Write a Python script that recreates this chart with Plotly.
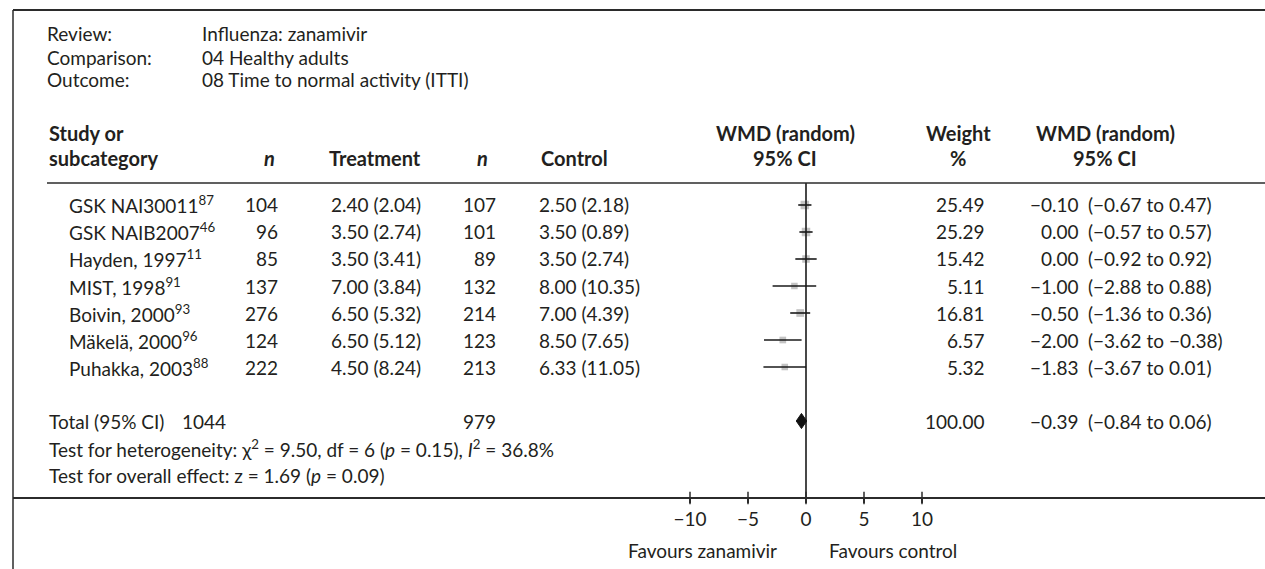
import plotly.graph_objects as go

# ---------------- data ----------------
studies = ["GSK NAI30011", "GSK NAIB2007", "Hayden, 1997", "MIST, 1998",
           "Boivin, 2000", "Mäkelä, 2000", "Puhakka, 2003"]
refs = ["87", "46", "11", "91", "93", "96", "88"]
n_treat = [104, 96, 85, 137, 276, 124, 222]
treat = ["2.40 (2.04)", "3.50 (2.74)", "3.50 (3.41)", "7.00 (3.84)",
         "6.50 (5.32)", "6.50 (5.12)", "4.50 (8.24)"]
n_ctrl = [107, 101, 89, 132, 214, 123, 213]
ctrl = ["2.50 (2.18)", "3.50 (0.89)", "3.50 (2.74)", "8.00 (10.35)",
        "7.00 (4.39)", "8.50 (7.65)", "6.33 (11.05)"]
wmd = [-0.10, 0.00, 0.00, -1.00, -0.50, -2.00, -1.83]
ci_lo = [-0.67, -0.57, -0.92, -2.88, -1.36, -3.62, -3.67]
ci_hi = [0.47, 0.57, 0.92, 0.88, 0.36, -0.38, 0.01]
weight = [25.49, 25.29, 15.42, 5.11, 16.81, 6.57, 5.32]

total_n_treat = 1044
total_n_ctrl = 979
total_wmd = -0.39
total_lo = -0.84
total_hi = 0.06
total_weight = 100.00

tick_vals = [-10, -5, 0, 5, 10]

# ---------------- layout constants ----------------
W, H = 1265, 569
FONT = "Lato, 'Open Sans', sans-serif"
FS = 19
FS_HEAD = 20
TXT = "#231f20"
LINE = "#2b2b2b"
PX_PER_UNIT = 11.6
ZERO_PX = 806
LEFT_PX = 13
ROW0_PX = 205
ROW_PITCH = 27
AXIS_PX = 498


def px_to_row(py):
    return (py - ROW0_PX) / ROW_PITCH


def row_to_paper(row):
    return 1 - (ROW0_PX + ROW_PITCH * row) / H


def fmt(v):
    return f"{v:.2f}".replace("-", "\u2212")


fig = go.Figure()

rows = list(range(len(studies)))
total_row = len(studies) + 1
het_row = total_row + 1
eff_row = total_row + 2

# squares
fig.add_trace(go.Scatter(
    x=wmd, y=rows, mode="markers",
    marker=dict(symbol="square", color="#ababab",
                size=[6 + 0.1 * w for w in weight], line=dict(width=0)),
    hoverinfo="skip", showlegend=False))

# CI lines
xs, ys = [], []
for lo, hi, r in zip(ci_lo, ci_hi, rows):
    xs += [lo, hi, None]
    ys += [r, r, None]
fig.add_trace(go.Scatter(x=xs, y=ys, mode="lines",
                         line=dict(color="#1a1a1a", width=1.6),
                         hoverinfo="skip", showlegend=False))

# zero line
fig.add_trace(go.Scatter(x=[0, 0], y=[px_to_row(183), px_to_row(AXIS_PX)],
                         mode="lines", line=dict(color="#1a1a1a", width=1.6),
                         hoverinfo="skip", showlegend=False))

# tick marks crossing the axis line
fig.add_trace(go.Scatter(x=tick_vals, y=[px_to_row(AXIS_PX)] * len(tick_vals),
                         mode="markers",
                         marker=dict(symbol="line-ns", size=9,
                                     line=dict(color=LINE, width=1.5)),
                         hoverinfo="skip", showlegend=False, cliponaxis=False))

# diamond
h = 0.28
fig.add_trace(go.Scatter(
    x=[total_lo, total_wmd, total_hi, total_wmd, total_lo],
    y=[total_row, total_row - h, total_row, total_row + h, total_row],
    mode="lines", fill="toself", fillcolor="#111111",
    line=dict(color="#111111", width=1), hoverinfo="skip", showlegend=False))

ann = []


def add_text(px, row, text, anchor="left", bold=False):
    t = f"<b>{text}</b>" if bold else text
    ann.append(dict(x=px / W, xref="paper", y=row_to_paper(row), yref="paper",
                    text=t, showarrow=False, xanchor=anchor, yanchor="middle",
                    font=dict(family=FONT, size=FS_HEAD if bold else FS,
                              color=TXT)))


# header info
info_labels = ["Review:", "Comparison:", "Outcome:"]
info_values = ["Influenza: zanamivir", "04 Healthy adults",
               "08 Time to normal activity (ITTI)"]
for lab, val, py in zip(info_labels, info_values, [33, 57, 80]):
    add_text(45, px_to_row(py), lab)
    add_text(200, px_to_row(py), val)

# column headers
r1, r2 = px_to_row(133), px_to_row(158)
add_text(47, r1, "Study or", bold=True)
add_text(47, r2, "subcategory", bold=True)
add_text(269, r2, "<i>n</i>", anchor="center", bold=True)
add_text(327, r2, "Treatment", bold=True)
add_text(482, r2, "<i>n</i>", anchor="center", bold=True)
add_text(539, r2, "Control", bold=True)
add_text(785, r1, "WMD (random)", anchor="center", bold=True)
add_text(785, r2, "95% CI", anchor="center", bold=True)
add_text(958, r1, "Weight", anchor="center", bold=True)
add_text(958, r2, "%", anchor="center", bold=True)
add_text(1105, r1, "WMD (random)", anchor="center", bold=True)
add_text(1105, r2, "95% CI", anchor="center", bold=True)

# study rows
for i, r in enumerate(rows):
    add_text(67, r, f"{studies[i]}<sup>{refs[i]}</sup>")
    add_text(280, r, str(n_treat[i]), anchor="right")
    add_text(329, r, treat[i])
    add_text(498, r, str(n_ctrl[i]), anchor="right")
    add_text(537, r, ctrl[i])
    add_text(987, r, f"{weight[i]:.2f}", anchor="right")
    add_text(1081, r, fmt(wmd[i]), anchor="right")
    add_text(1086, r, f"({fmt(ci_lo[i])} to {fmt(ci_hi[i])})")

# total row
add_text(47, total_row, "Total (95% CI)")
add_text(228, total_row, str(total_n_treat), anchor="right")
add_text(498, total_row, str(total_n_ctrl), anchor="right")
add_text(987, total_row, f"{total_weight:.2f}", anchor="right")
add_text(1081, total_row, fmt(total_wmd), anchor="right")
add_text(1086, total_row, f"({fmt(total_lo)} to {fmt(total_hi)})")

add_text(47, het_row, "Test for heterogeneity: \u03c7<sup>2</sup> = 9.50, df = 6 "
         "(<i>p</i> = 0.15), <i>I</i><sup>2</sup> = 36.8%")
add_text(47, eff_row, "Test for overall effect: z = 1.69 (<i>p</i> = 0.09)")

# favours labels
for px, label in [(702, "Favours zanamivir"), (893, "Favours control")]:
    add_text(px, px_to_row(550), label, anchor="center")

shapes = [
    dict(type="line", xref="paper", yref="paper", x0=LEFT_PX / W, x1=1,
         y0=1 - 10 / H, y1=1 - 10 / H, line=dict(color=LINE, width=2)),
    dict(type="line", xref="paper", yref="paper", x0=LEFT_PX / W, x1=LEFT_PX / W,
         y0=0, y1=1 - 10 / H, line=dict(color=LINE, width=1.5)),
    dict(type="line", xref="paper", yref="paper", x0=47 / W, x1=1,
         y0=1 - 183 / H, y1=1 - 183 / H, line=dict(color=LINE, width=1.5)),
]

fig.update_layout(
    width=W, height=H, margin=dict(l=0, r=0, t=0, b=0),
    paper_bgcolor="white", plot_bgcolor="white",
    showlegend=False, annotations=ann, shapes=shapes,
    xaxis=dict(domain=[LEFT_PX / W, 1],
               range=[(LEFT_PX - ZERO_PX) / PX_PER_UNIT, (W - ZERO_PX) / PX_PER_UNIT],
               tickvals=tick_vals, showgrid=False, zeroline=False,
               showline=True, linecolor=LINE, linewidth=2,
               ticks="outside", ticklen=4, tickwidth=1.5, tickcolor=LINE,
               anchor="free", position=1 - AXIS_PX / H,
               tickfont=dict(family=FONT, size=FS, color=TXT)),
    yaxis=dict(domain=[0, 1], range=[px_to_row(H), px_to_row(0)],
               visible=False, showgrid=False, zeroline=False),
)

fig.write_html("out.html")
